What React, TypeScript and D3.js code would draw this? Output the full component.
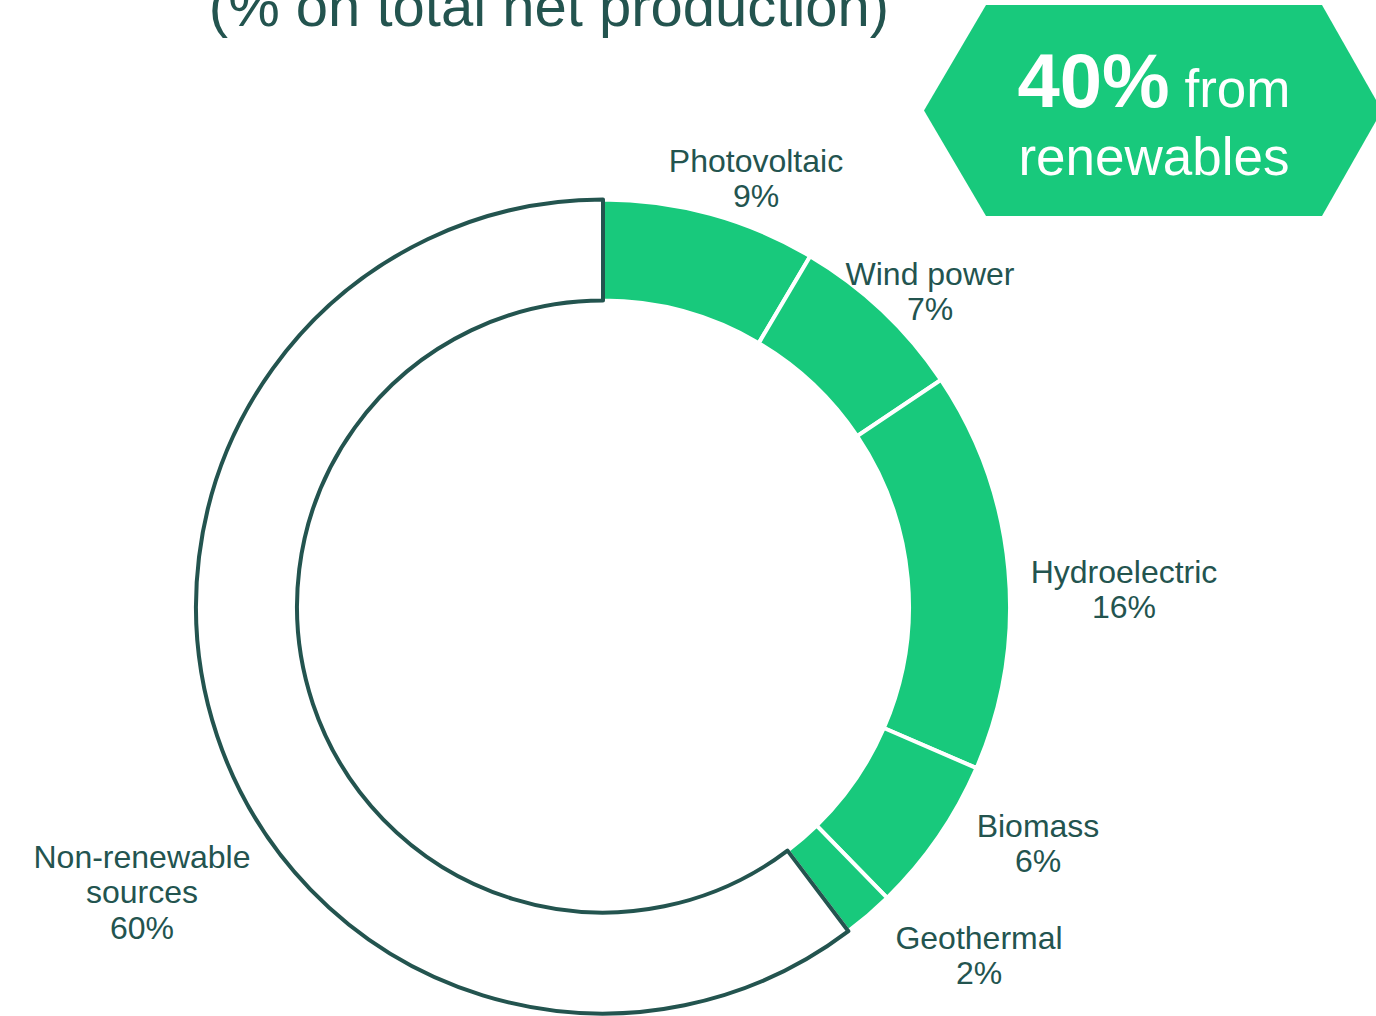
import React from 'react';
import * as d3 from 'd3';

// ---- data ----
const categories = ['Photovoltaic', 'Wind power', 'Hydroelectric', 'Biomass', 'Geothermal', 'Non-renewable sources'];
const categoryLines = [['Photovoltaic'], ['Wind power'], ['Hydroelectric'], ['Biomass'], ['Geothermal'], ['Non-renewable', 'sources']];
const shares = [8.5, 7.1, 15.9, 6.2, 2.0, 60.3];
const isRenewable = [true, true, true, true, true, false];
const titleText = '(% on total net production)';
const badgeValue = '40%';
const badgeLine1 = 'from';
const badgeLine2 = 'renewables';

// ---- layout (annotation anchors relative to donut centre: x centre, first baseline) ----
const labelAnchors = [
  [153, -435],
  [327, -322],
  [521, -24],
  [435, 230],
  [376, 342],
  [-461, 261],
];

const W = 1376;
const H = 1016;
const CX = 603;
const CY = 606.5;
const R_OUT = 407;
const R_IN = 306;
const GREEN = '#18C97C';
const DARK = '#23544F';
const FONT = '"Liberation Sans", Arial, Helvetica, sans-serif';

export default function App() {
  const pie = d3.pie<number>().sort(null).value((d) => d).startAngle(0).endAngle(2 * Math.PI);
  const arcs = pie(shares);
  const arc = d3.arc<d3.PieArcDatum<number>>().innerRadius(R_IN).outerRadius(R_OUT);

  const bx = 1154;
  const bTop = 5;
  const bBot = 216;
  const bHalf = 168;
  const bPoint = 60;
  const bMid = (bTop + bBot) / 2;
  const hex = [
    [bx - bHalf, bTop],
    [bx + bHalf, bTop],
    [bx + bHalf + bPoint, bMid],
    [bx + bHalf, bBot],
    [bx - bHalf, bBot],
    [bx - bHalf - bPoint - 2, bMid],
  ]
    .map((p) => p.join(','))
    .join(' ');

  const lineH = 35.5;

  return (
    <svg
      width={W}
      height={H}
      style={{ position: 'absolute', left: 0, top: 0, background: '#fff' }}
      fontFamily={FONT}
    >
      <rect width={W} height={H} fill="#fff" />
      <text x={549} y={26} textAnchor="middle" fontSize={58} fill={DARK}>
        {titleText}
      </text>

      <g transform={`translate(${CX},${CY})`}>
        {arcs.map((a, i) =>
          isRenewable[i] ? (
            <path key={i} d={arc(a) || ''} fill={GREEN} stroke="#fff" strokeWidth={4} />
          ) : null
        )}
        {arcs.map((a, i) =>
          !isRenewable[i] ? (
            <path
              key={'n' + i}
              d={arc(a) || ''}
              fill="#fff"
              stroke={DARK}
              strokeWidth={4}
              strokeLinejoin="round"
            />
          ) : null
        )}
        {arcs.map((a, i) => {
          const [lx, ly] = labelAnchors[i];
          const lines = [...categoryLines[i], `${Math.round(shares[i])}%`];
          return (
            <text key={'l' + i} x={lx} y={ly} textAnchor="middle" fontSize={32} fill={DARK}>
              {lines.map((t, j) => (
                <tspan key={j} x={lx} y={ly + j * lineH}>
                  {t}
                </tspan>
              ))}
            </text>
          );
        })}
      </g>

      <polygon points={hex} fill={GREEN} />
      <text x={bx} y={107} textAnchor="middle" fill="#fff">
        <tspan fontSize={76} fontWeight="bold">{badgeValue}</tspan>
        <tspan fontSize={53}> {badgeLine1}</tspan>
      </text>
      <text x={bx} y={175} textAnchor="middle" fill="#fff" fontSize={53}>
        {badgeLine2}
      </text>
    </svg>
  );
}
